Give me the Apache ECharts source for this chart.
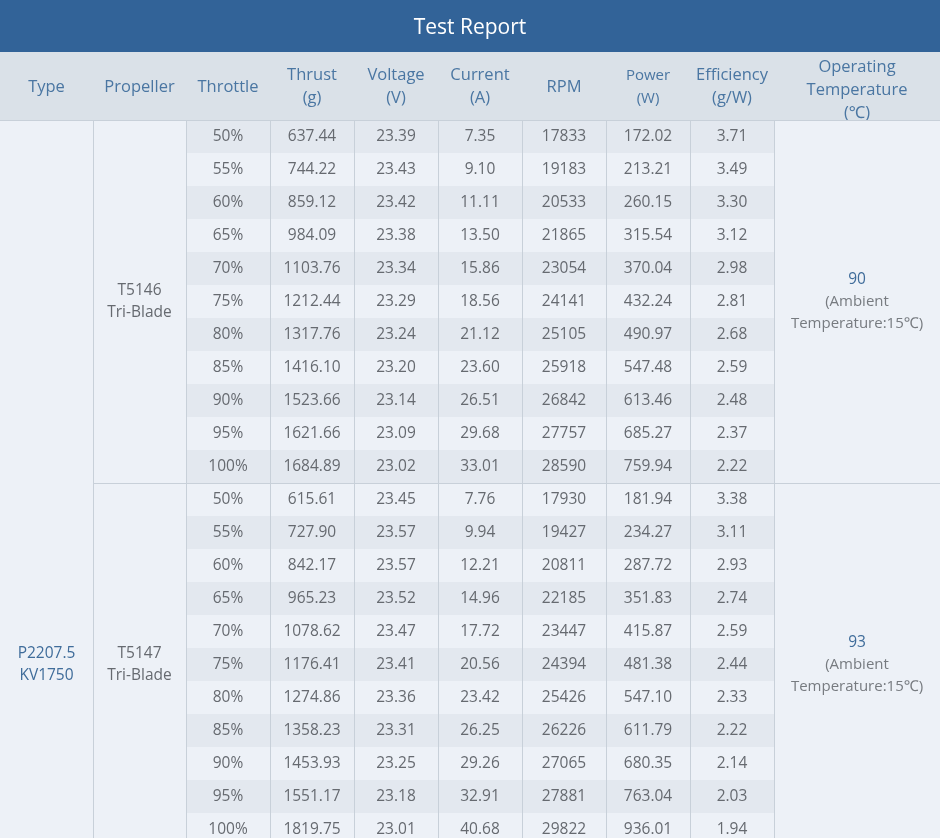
<!DOCTYPE html>
<html>
<head>
<meta charset="utf-8">
<script src="https://cdn.jsdelivr.net/npm/echarts@6/dist/echarts.min.js"></script>
<style>
  html, body { margin: 0; padding: 0; background: #edf1f7; }
  #main { width: 940px; height: 838px; }
</style>
</head>
<body>
<div id="main"></div>
<script>
// table data
const headers = ['Type', 'Propeller', 'Throttle', 'Thrust\n(g)', 'Voltage\n(V)', 'Current\n(A)', 'RPM', 'Power\n(W)', 'Efficiency\n(g/W)', 'Operating\nTemperature\n(℃)'];
const motorType = 'P2207.5\nKV1750';
const propellers = ['T5146\nTri-Blade', 'T5147\nTri-Blade'];
const throttle = ['50%', '55%', '60%', '65%', '70%', '75%', '80%', '85%', '90%', '95%', '100%'];
const thrust = [
    [637.44, 744.22, 859.12, 984.09, 1103.76, 1212.44, 1317.76, 1416.10, 1523.66, 1621.66, 1684.89],
    [615.61, 727.90, 842.17, 965.23, 1078.62, 1176.41, 1274.86, 1358.23, 1453.93, 1551.17, 1819.75]
];
const voltage = [
    [23.39, 23.43, 23.42, 23.38, 23.34, 23.29, 23.24, 23.20, 23.14, 23.09, 23.02],
    [23.45, 23.57, 23.57, 23.52, 23.47, 23.41, 23.36, 23.31, 23.25, 23.18, 23.01]
];
const current = [
    [7.35, 9.10, 11.11, 13.50, 15.86, 18.56, 21.12, 23.60, 26.51, 29.68, 33.01],
    [7.76, 9.94, 12.21, 14.96, 17.72, 20.56, 23.42, 26.25, 29.26, 32.91, 40.68]
];
const rpm = [
    [17833, 19183, 20533, 21865, 23054, 24141, 25105, 25918, 26842, 27757, 28590],
    [17930, 19427, 20811, 22185, 23447, 24394, 25426, 26226, 27065, 27881, 29822]
];
const power = [
    [172.02, 213.21, 260.15, 315.54, 370.04, 432.24, 490.97, 547.48, 613.46, 685.27, 759.94],
    [181.94, 234.27, 287.72, 351.83, 415.87, 481.38, 547.10, 611.79, 680.35, 763.04, 936.01]
];
const efficiency = [
    [3.71, 3.49, 3.30, 3.12, 2.98, 2.81, 2.68, 2.59, 2.48, 2.37, 2.22],
    [3.38, 3.11, 2.93, 2.74, 2.59, 2.44, 2.33, 2.22, 2.14, 2.03, 1.94]
];
const opTemps = [90, 93];
const ambientNote = '(Ambient\nTemperature:15℃)';

// layout
const colWidths = [93, 93, 84, 84, 84, 84, 84, 84, 84, 166];
const edges = [0];
colWidths.forEach(w => edges.push(edges[edges.length - 1] + w));
const totalW = edges[edges.length - 1];
const pageH = 838, titleH = 52, headBottom = 120, rowH = 33;
const visibleRows = (pageH - headBottom) / rowH; // last row is cut by the page edge
const typeSpan = 33; // motor cell continues below the visible part

const FONT = '"Open Sans", "Noto Sans", sans-serif';
const LINE = '#c8d0d9';
const HEAD_TXT = '#4a76a2';
const BODY_TXT = '#666a70';

// build cells
let cells = [];
cells.push({ v: [edges[0], edges[1], 0, typeSpan], text: motorType, kind: 'type' });
for (let g = 0; g < propellers.length; g++) {
    let r0 = g * throttle.length;
    cells.push({ v: [edges[1], edges[2], r0, r0 + throttle.length], text: propellers[g], kind: 'prop' });
    for (let i = 0; i < throttle.length; i++) {
        let r = r0 + i;
        let vals = [
            throttle[i],
            thrust[g][i].toFixed(2),
            voltage[g][i].toFixed(2),
            current[g][i].toFixed(2),
            String(rpm[g][i]),
            power[g][i].toFixed(2),
            efficiency[g][i].toFixed(2)
        ];
        vals.forEach((t, c) => {
            cells.push({ v: [edges[2 + c], edges[3 + c], r, r + 1], text: t, kind: 'num', stripe: r % 2 === 0 });
        });
    }
    cells.push({ v: [edges[9], edges[10], r0, r0 + throttle.length], temp: opTemps[g], kind: 'temp' });
}

function bodyItem(params, api) {
    let cell = cells[params.dataIndex];
    let p0 = api.coord([api.value(0), api.value(2)]);
    let p1 = api.coord([api.value(1), api.value(3)]);
    let x = p0[0], y = p0[1], w = p1[0] - p0[0], h = p1[1] - p0[1];
    let children = [{
        type: 'rect',
        shape: { x: x, y: y, width: w, height: h },
        style: { fill: cell.stripe ? '#e3e8ef' : '#edf1f7' }
    }];
    if (api.value(0) > 0) {
        children.push({ type: 'line', shape: { x1: x + 0.5, y1: y, x2: x + 0.5, y2: y + h }, style: { stroke: LINE, lineWidth: 1 } });
    }
    if (api.value(2) % throttle.length === 0) {
        children.push({ type: 'line', shape: { x1: x, y1: y + 0.5, x2: x + w, y2: y + 0.5 }, style: { stroke: LINE, lineWidth: 1 } });
    }
    let ts = { x: x + w / 2, y: y + h / 2 + 0.5, align: 'center', verticalAlign: 'middle', fontFamily: FONT, fontSize: 15.5, lineHeight: 22 };
    if (cell.kind === 'temp') {
        ts.text = '{a|' + cell.temp + '}\n' + ambientNote.split('\n').map(s => '{b|' + s + '}').join('\n');
        ts.rich = {
            a: { fill: '#3f6c9a', fontFamily: FONT, fontSize: 15.5, lineHeight: 22 },
            b: { fill: '#777b80', fontFamily: FONT, fontSize: 15, lineHeight: 22 }
        };
    } else {
        ts.text = cell.text;
        ts.fill = cell.kind === 'type' ? '#3f6c9a' : BODY_TXT;
    }
    children.push({ type: 'text', style: ts });
    return { type: 'group', children: children };
}

function headItem(params, api) {
    let p0 = api.coord([api.value(0), 0]);
    let p1 = api.coord([api.value(1), 1]);
    let i = params.dataIndex;
    let x = p0[0], y = p0[1], w = p1[0] - p0[0], h = p1[1] - p0[1];
    let small = headers[i].indexOf('Power') === 0;
    return {
        type: 'group',
        children: [
            { type: 'rect', shape: { x: x, y: y, width: w, height: h }, style: { fill: '#dae1e8' } },
            {
                type: 'text',
                style: {
                    text: headers[i], x: x + w / 2, y: y + h / 2 + (i === 9 ? 4 : 1),
                    align: 'center', verticalAlign: 'middle',
                    fontFamily: FONT, fontSize: small ? 15 : 16.5, lineHeight: 23, fill: HEAD_TXT
                }
            }
        ]
    };
}

var myChart = echarts.init(document.getElementById('main'));
myChart.setOption({
    backgroundColor: '#edf1f7',
    animation: false,
    graphic: [
        { type: 'rect', left: 0, top: 0, z: 0, shape: { width: totalW, height: titleH }, style: { fill: '#326398' } },
        { type: 'text', z: 1, style: { text: 'Test Report', x: totalW / 2, y: 28, align: 'center', verticalAlign: 'middle', fill: '#ffffff', fontFamily: FONT, fontSize: 21 } }
    ],
    grid: [
        { left: 0, right: 0, top: titleH, height: headBottom - titleH },
        { left: 0, right: 0, top: headBottom, bottom: 0 }
    ],
    xAxis: [
        { gridIndex: 0, type: 'value', min: 0, max: totalW, show: false },
        { gridIndex: 1, type: 'value', min: 0, max: totalW, show: false }
    ],
    yAxis: [
        { gridIndex: 0, type: 'value', min: 0, max: 1, inverse: true, show: false },
        { gridIndex: 1, type: 'value', min: 0, max: visibleRows, inverse: true, show: false }
    ],
    series: [
        {
            type: 'custom',
            xAxisIndex: 0, yAxisIndex: 0,
            clip: true,
            renderItem: headItem,
            encode: { x: [0, 1], y: [2, 3] },
            data: headers.map((h, i) => [edges[i], edges[i + 1], 0, 1])
        },
        {
            type: 'custom',
            xAxisIndex: 1, yAxisIndex: 1,
            clip: true,
            renderItem: bodyItem,
            encode: { x: [0, 1], y: [2, 3] },
            data: cells.map(c => c.v)
        }
    ]
});
window.addEventListener('resize', function () {
    myChart.resize()
});
</script>
</body>
</html>
